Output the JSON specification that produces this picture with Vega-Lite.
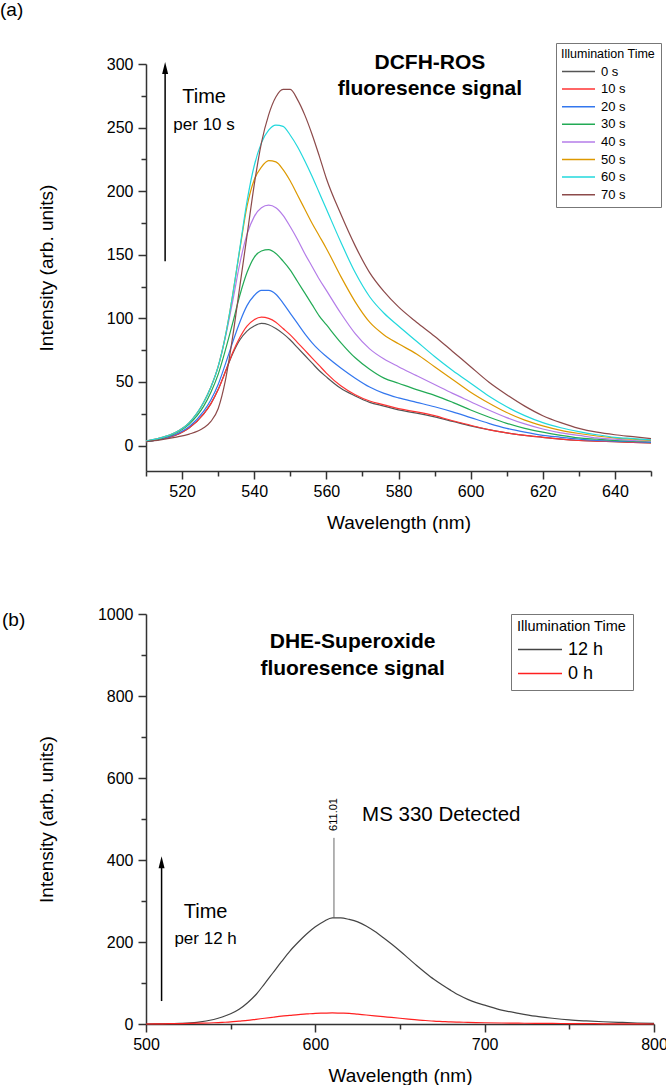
{
  "$schema": "https://vega.github.io/schema/vega-lite/v6.json",
  "padding": {"left": 0, "top": 0, "right": 0, "bottom": 0},
  "background": "white",
  "config": {
    "font": "Liberation Sans",
    "view": {"stroke": null},
    "axis": {"domainColor": "#333333", "domainWidth": 1.5, "tickColor": "#333333", "tickWidth": 1.5, "labelColor": "black", "titleColor": "black", "labelFont": "Liberation Sans", "titleFont": "Liberation Sans", "labelFontSize": 16, "titleFontSize": 19, "titleFontWeight": "normal", "grid": false, "labelOverlap": false, "labelFlush": false, "tickCount": 40},
    "legend": {"titleFont": "Liberation Sans", "labelFont": "Liberation Sans", "titleFontWeight": "normal", "titleColor": "black", "labelColor": "black"},
    "title": {"font": "Liberation Sans", "fontWeight": "normal", "color": "black"}
  },
  "spacing": 74,
  "resolve": {"scale": {"color": "independent"}, "legend": {"color": "independent"}},
  "datasets": {
    "dcfh": [
      {"w":510,"t":"0 s","i":3},{"w":514,"t":"0 s","i":5},{"w":518,"t":"0 s","i":8},{"w":522,"t":"0 s","i":14},{"w":526,"t":"0 s","i":25},{"w":528,"t":"0 s","i":33},{"w":530,"t":"0 s","i":44},{"w":532,"t":"0 s","i":58},{"w":534,"t":"0 s","i":72},{"w":536,"t":"0 s","i":83},{"w":538,"t":"0 s","i":90},{"w":540,"t":"0 s","i":94},{"w":542,"t":"0 s","i":96},{"w":544,"t":"0 s","i":95},{"w":546,"t":"0 s","i":92},{"w":548,"t":"0 s","i":88},{"w":550,"t":"0 s","i":83},{"w":552,"t":"0 s","i":77},{"w":554,"t":"0 s","i":71},{"w":556,"t":"0 s","i":65},{"w":558,"t":"0 s","i":59},{"w":560,"t":"0 s","i":54},{"w":564,"t":"0 s","i":45},{"w":568,"t":"0 s","i":39},{"w":572,"t":"0 s","i":34},{"w":576,"t":"0 s","i":31},{"w":580,"t":"0 s","i":28},{"w":585,"t":"0 s","i":25.5},{"w":590,"t":"0 s","i":22.5},{"w":595,"t":"0 s","i":19},{"w":600,"t":"0 s","i":15.5},{"w":605,"t":"0 s","i":12.5},{"w":610,"t":"0 s","i":10},{"w":615,"t":"0 s","i":8},{"w":620,"t":"0 s","i":6.5},{"w":625,"t":"0 s","i":5},{"w":630,"t":"0 s","i":4},{"w":635,"t":"0 s","i":3.5},{"w":640,"t":"0 s","i":3},{"w":645,"t":"0 s","i":2.5},{"w":650,"t":"0 s","i":2},
      {"w":510,"t":"10 s","i":3},{"w":514,"t":"10 s","i":5},{"w":518,"t":"10 s","i":8},{"w":522,"t":"10 s","i":14},{"w":526,"t":"10 s","i":25},{"w":528,"t":"10 s","i":33},{"w":530,"t":"10 s","i":44},{"w":532,"t":"10 s","i":58},{"w":534,"t":"10 s","i":73},{"w":536,"t":"10 s","i":85},{"w":538,"t":"10 s","i":94},{"w":540,"t":"10 s","i":99},{"w":542,"t":"10 s","i":101},{"w":544,"t":"10 s","i":100},{"w":546,"t":"10 s","i":97},{"w":548,"t":"10 s","i":92},{"w":550,"t":"10 s","i":87},{"w":552,"t":"10 s","i":81},{"w":554,"t":"10 s","i":75},{"w":556,"t":"10 s","i":69},{"w":558,"t":"10 s","i":63},{"w":560,"t":"10 s","i":57},{"w":564,"t":"10 s","i":47},{"w":568,"t":"10 s","i":40},{"w":572,"t":"10 s","i":35},{"w":576,"t":"10 s","i":32},{"w":580,"t":"10 s","i":29},{"w":585,"t":"10 s","i":26.5},{"w":590,"t":"10 s","i":23.5},{"w":595,"t":"10 s","i":19.5},{"w":600,"t":"10 s","i":16},{"w":605,"t":"10 s","i":12.5},{"w":610,"t":"10 s","i":10},{"w":615,"t":"10 s","i":8},{"w":620,"t":"10 s","i":6.5},{"w":625,"t":"10 s","i":5},{"w":630,"t":"10 s","i":4},{"w":635,"t":"10 s","i":3.5},{"w":640,"t":"10 s","i":3},{"w":645,"t":"10 s","i":2.5},{"w":650,"t":"10 s","i":2},
      {"w":510,"t":"20 s","i":3},{"w":514,"t":"20 s","i":5},{"w":518,"t":"20 s","i":8.5},{"w":522,"t":"20 s","i":15},{"w":526,"t":"20 s","i":27},{"w":528,"t":"20 s","i":36},{"w":530,"t":"20 s","i":48},{"w":532,"t":"20 s","i":64},{"w":534,"t":"20 s","i":81},{"w":536,"t":"20 s","i":97},{"w":538,"t":"20 s","i":110},{"w":540,"t":"20 s","i":118},{"w":542,"t":"20 s","i":122},{"w":544,"t":"20 s","i":122},{"w":546,"t":"20 s","i":119},{"w":548,"t":"20 s","i":112},{"w":550,"t":"20 s","i":104},{"w":552,"t":"20 s","i":96},{"w":554,"t":"20 s","i":88},{"w":556,"t":"20 s","i":81},{"w":558,"t":"20 s","i":75},{"w":560,"t":"20 s","i":70},{"w":564,"t":"20 s","i":61},{"w":568,"t":"20 s","i":53},{"w":572,"t":"20 s","i":46},{"w":576,"t":"20 s","i":41},{"w":580,"t":"20 s","i":37.5},{"w":585,"t":"20 s","i":34},{"w":590,"t":"20 s","i":30.5},{"w":595,"t":"20 s","i":26.5},{"w":600,"t":"20 s","i":22},{"w":605,"t":"20 s","i":17.5},{"w":610,"t":"20 s","i":13.5},{"w":615,"t":"20 s","i":10.5},{"w":620,"t":"20 s","i":8},{"w":625,"t":"20 s","i":6.5},{"w":630,"t":"20 s","i":5},{"w":635,"t":"20 s","i":4},{"w":640,"t":"20 s","i":3.5},{"w":645,"t":"20 s","i":3},{"w":650,"t":"20 s","i":2.5},
      {"w":510,"t":"30 s","i":3},{"w":514,"t":"30 s","i":5.5},{"w":518,"t":"30 s","i":9.5},{"w":522,"t":"30 s","i":17},{"w":526,"t":"30 s","i":31},{"w":528,"t":"30 s","i":42},{"w":530,"t":"30 s","i":56},{"w":532,"t":"30 s","i":75},{"w":534,"t":"30 s","i":96},{"w":536,"t":"30 s","i":118},{"w":538,"t":"30 s","i":136},{"w":540,"t":"30 s","i":148},{"w":542,"t":"30 s","i":153},{"w":544,"t":"30 s","i":154},{"w":546,"t":"30 s","i":151},{"w":548,"t":"30 s","i":145},{"w":550,"t":"30 s","i":138},{"w":552,"t":"30 s","i":129},{"w":554,"t":"30 s","i":120},{"w":556,"t":"30 s","i":111},{"w":558,"t":"30 s","i":102},{"w":560,"t":"30 s","i":95},{"w":564,"t":"30 s","i":81},{"w":568,"t":"30 s","i":69},{"w":572,"t":"30 s","i":60},{"w":576,"t":"30 s","i":53},{"w":580,"t":"30 s","i":49},{"w":585,"t":"30 s","i":44},{"w":590,"t":"30 s","i":39.5},{"w":595,"t":"30 s","i":34},{"w":600,"t":"30 s","i":28},{"w":605,"t":"30 s","i":22.5},{"w":610,"t":"30 s","i":17.5},{"w":615,"t":"30 s","i":13.5},{"w":620,"t":"30 s","i":10.5},{"w":625,"t":"30 s","i":8},{"w":630,"t":"30 s","i":6},{"w":635,"t":"30 s","i":5},{"w":640,"t":"30 s","i":4},{"w":645,"t":"30 s","i":3.5},{"w":650,"t":"30 s","i":3},
      {"w":510,"t":"40 s","i":3.5},{"w":514,"t":"40 s","i":6},{"w":518,"t":"40 s","i":10},{"w":522,"t":"40 s","i":18},{"w":526,"t":"40 s","i":34},{"w":528,"t":"40 s","i":46},{"w":530,"t":"40 s","i":62},{"w":532,"t":"40 s","i":85},{"w":534,"t":"40 s","i":113},{"w":536,"t":"40 s","i":143},{"w":538,"t":"40 s","i":166},{"w":540,"t":"40 s","i":180},{"w":542,"t":"40 s","i":187},{"w":544,"t":"40 s","i":189},{"w":546,"t":"40 s","i":187},{"w":548,"t":"40 s","i":181},{"w":550,"t":"40 s","i":172},{"w":552,"t":"40 s","i":162},{"w":554,"t":"40 s","i":151},{"w":556,"t":"40 s","i":141},{"w":558,"t":"40 s","i":131},{"w":560,"t":"40 s","i":122},{"w":564,"t":"40 s","i":104},{"w":568,"t":"40 s","i":88},{"w":572,"t":"40 s","i":76},{"w":576,"t":"40 s","i":68},{"w":580,"t":"40 s","i":62},{"w":585,"t":"40 s","i":55},{"w":590,"t":"40 s","i":48},{"w":595,"t":"40 s","i":41},{"w":600,"t":"40 s","i":34.5},{"w":605,"t":"40 s","i":28},{"w":610,"t":"40 s","i":22},{"w":615,"t":"40 s","i":17},{"w":620,"t":"40 s","i":13},{"w":625,"t":"40 s","i":10},{"w":630,"t":"40 s","i":8},{"w":635,"t":"40 s","i":6},{"w":640,"t":"40 s","i":5},{"w":645,"t":"40 s","i":4},{"w":650,"t":"40 s","i":3.5},
      {"w":510,"t":"50 s","i":3.5},{"w":514,"t":"50 s","i":6},{"w":518,"t":"50 s","i":10},{"w":522,"t":"50 s","i":18},{"w":526,"t":"50 s","i":34},{"w":528,"t":"50 s","i":46},{"w":530,"t":"50 s","i":62},{"w":532,"t":"50 s","i":86},{"w":534,"t":"50 s","i":118},{"w":536,"t":"50 s","i":154},{"w":538,"t":"50 s","i":188},{"w":540,"t":"50 s","i":209},{"w":542,"t":"50 s","i":219},{"w":544,"t":"50 s","i":224},{"w":546,"t":"50 s","i":223},{"w":548,"t":"50 s","i":217},{"w":550,"t":"50 s","i":208},{"w":552,"t":"50 s","i":197},{"w":554,"t":"50 s","i":186},{"w":556,"t":"50 s","i":175},{"w":558,"t":"50 s","i":165},{"w":560,"t":"50 s","i":155},{"w":564,"t":"50 s","i":133},{"w":568,"t":"50 s","i":113},{"w":572,"t":"50 s","i":97},{"w":576,"t":"50 s","i":87},{"w":580,"t":"50 s","i":80},{"w":585,"t":"50 s","i":72},{"w":590,"t":"50 s","i":62},{"w":595,"t":"50 s","i":52},{"w":600,"t":"50 s","i":42},{"w":605,"t":"50 s","i":33.5},{"w":610,"t":"50 s","i":26},{"w":615,"t":"50 s","i":20},{"w":620,"t":"50 s","i":15.5},{"w":625,"t":"50 s","i":12},{"w":630,"t":"50 s","i":9.5},{"w":635,"t":"50 s","i":7.5},{"w":640,"t":"50 s","i":6},{"w":645,"t":"50 s","i":5},{"w":650,"t":"50 s","i":4},
      {"w":510,"t":"60 s","i":3.5},{"w":514,"t":"60 s","i":6},{"w":518,"t":"60 s","i":10},{"w":522,"t":"60 s","i":18},{"w":526,"t":"60 s","i":34},{"w":528,"t":"60 s","i":46},{"w":530,"t":"60 s","i":62},{"w":532,"t":"60 s","i":86},{"w":534,"t":"60 s","i":118},{"w":536,"t":"60 s","i":155},{"w":538,"t":"60 s","i":192},{"w":540,"t":"60 s","i":220},{"w":542,"t":"60 s","i":238},{"w":544,"t":"60 s","i":248},{"w":546,"t":"60 s","i":252},{"w":548,"t":"60 s","i":251},{"w":550,"t":"60 s","i":244},{"w":552,"t":"60 s","i":235},{"w":554,"t":"60 s","i":224},{"w":556,"t":"60 s","i":212},{"w":558,"t":"60 s","i":199},{"w":560,"t":"60 s","i":186},{"w":564,"t":"60 s","i":160},{"w":568,"t":"60 s","i":136},{"w":572,"t":"60 s","i":117},{"w":576,"t":"60 s","i":104},{"w":580,"t":"60 s","i":94},{"w":585,"t":"60 s","i":82},{"w":590,"t":"60 s","i":70},{"w":595,"t":"60 s","i":59},{"w":600,"t":"60 s","i":49},{"w":605,"t":"60 s","i":39},{"w":610,"t":"60 s","i":30.5},{"w":615,"t":"60 s","i":23.5},{"w":620,"t":"60 s","i":18},{"w":625,"t":"60 s","i":14},{"w":630,"t":"60 s","i":11},{"w":635,"t":"60 s","i":8.5},{"w":640,"t":"60 s","i":6.5},{"w":645,"t":"60 s","i":5.5},{"w":650,"t":"60 s","i":4.5},
      {"w":510,"t":"70 s","i":3},{"w":514,"t":"70 s","i":4.5},{"w":518,"t":"70 s","i":6.5},{"w":522,"t":"70 s","i":9},{"w":526,"t":"70 s","i":14},{"w":528,"t":"70 s","i":19},{"w":530,"t":"70 s","i":29},{"w":532,"t":"70 s","i":51},{"w":534,"t":"70 s","i":85},{"w":536,"t":"70 s","i":125},{"w":538,"t":"70 s","i":165},{"w":540,"t":"70 s","i":205},{"w":542,"t":"70 s","i":238},{"w":544,"t":"70 s","i":260},{"w":546,"t":"70 s","i":274},{"w":548,"t":"70 s","i":280},{"w":550,"t":"70 s","i":280},{"w":552,"t":"70 s","i":272},{"w":554,"t":"70 s","i":260},{"w":556,"t":"70 s","i":245},{"w":558,"t":"70 s","i":228},{"w":560,"t":"70 s","i":210},{"w":564,"t":"70 s","i":182},{"w":568,"t":"70 s","i":157},{"w":572,"t":"70 s","i":136},{"w":576,"t":"70 s","i":121},{"w":580,"t":"70 s","i":109},{"w":585,"t":"70 s","i":97},{"w":590,"t":"70 s","i":86},{"w":595,"t":"70 s","i":74},{"w":600,"t":"70 s","i":62},{"w":605,"t":"70 s","i":50},{"w":610,"t":"70 s","i":40},{"w":615,"t":"70 s","i":31},{"w":620,"t":"70 s","i":23.5},{"w":625,"t":"70 s","i":18},{"w":630,"t":"70 s","i":13.5},{"w":635,"t":"70 s","i":10.5},{"w":640,"t":"70 s","i":8.5},{"w":645,"t":"70 s","i":7},{"w":650,"t":"70 s","i":5.5}
    ],
    "dhe": [
      {"w":500,"t":"12 h","i":0},{"w":510,"t":"12 h","i":0.5},{"w":520,"t":"12 h","i":1.5},{"w":530,"t":"12 h","i":4},{"w":540,"t":"12 h","i":11},{"w":545,"t":"12 h","i":17},{"w":550,"t":"12 h","i":25},{"w":555,"t":"12 h","i":36},{"w":560,"t":"12 h","i":52},{"w":565,"t":"12 h","i":72},{"w":570,"t":"12 h","i":98},{"w":575,"t":"12 h","i":125},{"w":580,"t":"12 h","i":152},{"w":585,"t":"12 h","i":178},{"w":590,"t":"12 h","i":200},{"w":595,"t":"12 h","i":220},{"w":600,"t":"12 h","i":237},{"w":605,"t":"12 h","i":250},{"w":610,"t":"12 h","i":259},{"w":615,"t":"12 h","i":259},{"w":620,"t":"12 h","i":255},{"w":625,"t":"12 h","i":249},{"w":630,"t":"12 h","i":239},{"w":635,"t":"12 h","i":226},{"w":640,"t":"12 h","i":211},{"w":645,"t":"12 h","i":195},{"w":650,"t":"12 h","i":178},{"w":655,"t":"12 h","i":160},{"w":660,"t":"12 h","i":142},{"w":665,"t":"12 h","i":125},{"w":670,"t":"12 h","i":109},{"w":675,"t":"12 h","i":95},{"w":680,"t":"12 h","i":82},{"w":685,"t":"12 h","i":70},{"w":690,"t":"12 h","i":60},{"w":695,"t":"12 h","i":52},{"w":700,"t":"12 h","i":46},{"w":710,"t":"12 h","i":34},{"w":720,"t":"12 h","i":26},{"w":730,"t":"12 h","i":19},{"w":740,"t":"12 h","i":14},{"w":750,"t":"12 h","i":10},{"w":760,"t":"12 h","i":7.5},{"w":770,"t":"12 h","i":5.5},{"w":780,"t":"12 h","i":4},{"w":790,"t":"12 h","i":2.5},{"w":800,"t":"12 h","i":1.5},
      {"w":500,"t":"0 h","i":0},{"w":510,"t":"0 h","i":0.5},{"w":520,"t":"0 h","i":1},{"w":530,"t":"0 h","i":2},{"w":540,"t":"0 h","i":3},{"w":545,"t":"0 h","i":4},{"w":550,"t":"0 h","i":5},{"w":555,"t":"0 h","i":7},{"w":560,"t":"0 h","i":9},{"w":565,"t":"0 h","i":11.5},{"w":570,"t":"0 h","i":14},{"w":575,"t":"0 h","i":16.5},{"w":580,"t":"0 h","i":19},{"w":585,"t":"0 h","i":21},{"w":590,"t":"0 h","i":23},{"w":595,"t":"0 h","i":24.5},{"w":600,"t":"0 h","i":26},{"w":605,"t":"0 h","i":26.5},{"w":610,"t":"0 h","i":27},{"w":615,"t":"0 h","i":26.5},{"w":620,"t":"0 h","i":26},{"w":625,"t":"0 h","i":24},{"w":630,"t":"0 h","i":22},{"w":635,"t":"0 h","i":20},{"w":640,"t":"0 h","i":18},{"w":645,"t":"0 h","i":16},{"w":650,"t":"0 h","i":14},{"w":655,"t":"0 h","i":12},{"w":660,"t":"0 h","i":10},{"w":665,"t":"0 h","i":8.5},{"w":670,"t":"0 h","i":7},{"w":675,"t":"0 h","i":6},{"w":680,"t":"0 h","i":5},{"w":685,"t":"0 h","i":4.5},{"w":690,"t":"0 h","i":4},{"w":695,"t":"0 h","i":3.5},{"w":700,"t":"0 h","i":3},{"w":710,"t":"0 h","i":2.5},{"w":720,"t":"0 h","i":2},{"w":730,"t":"0 h","i":1.5},{"w":740,"t":"0 h","i":1.5},{"w":750,"t":"0 h","i":1},{"w":760,"t":"0 h","i":1},{"w":770,"t":"0 h","i":0.5},{"w":780,"t":"0 h","i":0.5},{"w":790,"t":"0 h","i":0.5},{"w":800,"t":"0 h","i":0}
    ]
  },
  "vconcat": [
    {
      "width": 505,
      "height": 407,
      "title": {"text": "(a)", "anchor": "start", "frame": "group", "fontSize": 19, "dx": -146, "offset": 23},
      "layer": [
        {
          "data": {"name": "dcfh"},
          "mark": {"type": "line", "strokeWidth": 1.2, "interpolate": "monotone"},
          "encoding": {
            "x": {"field": "w", "type": "quantitative", "scale": {"domain": [510, 650], "nice": false, "zero": false},
              "axis": {"values": [510,520,530,540,550,560,570,580,590,600,610,620,630,640,650], "tickCount": 40, "tickSize": {"condition": {"test": "datum.value % 20 === 0", "value": 8}, "value": 5}, "labelExpr": "datum.value % 20 === 0 ? datum.label : ''", "labelPadding": 4, "title": "Wavelength (nm)", "titlePadding": 14}},
            "y": {"field": "i", "type": "quantitative", "scale": {"domain": [-20, 300], "nice": false, "zero": false},
              "axis": {"values": [0,25,50,75,100,125,150,175,200,225,250,275,300], "tickCount": 40, "tickSize": {"condition": {"test": "datum.value % 50 === 0", "value": 8}, "value": 5}, "labelExpr": "datum.value % 50 === 0 ? datum.label : ''", "labelPadding": 5, "title": "Intensity (arb. units)", "titlePadding": 40, "minExtent": 50, "maxExtent": 50}},
            "color": {"field": "t", "type": "nominal",
              "scale": {"domain": ["0 s","10 s","20 s","30 s","40 s","50 s","60 s","70 s"], "range": ["#555555","#ff3333","#3377ee","#22aa55","#b47ce8","#dd9900","#22d8dd","#8c4a4a"]},
              "legend": {"orient": "none", "legendX": 410, "legendY": -21, "title": "Illumination Time", "titleFontSize": 12.5, "titlePadding": 4, "labelFontSize": 13, "symbolType": "stroke", "symbolSize": 1089, "symbolStrokeWidth": 1.5, "clipHeight": 14, "rowPadding": 3.6, "labelOffset": 5, "strokeColor": "#777777", "fillColor": "white", "padding": 5}}
          }
        },
        {
          "data": {"values": [{}]},
          "mark": {"type": "rule", "color": "black", "strokeWidth": 1.5},
          "encoding": {"x": {"datum": 515.3}, "y": {"datum": 145}, "y2": {"datum": 297}}
        },
        {
          "data": {"values": [{}]},
          "mark": {"type": "point", "shape": "M0,-1L0.5,1L-0.5,1Z", "filled": true, "color": "black", "opacity": 1, "size": 144},
          "encoding": {"x": {"datum": 515.3}, "y": {"datum": 296.9}}
        },
        {
          "data": {"values": [{}]},
          "mark": {"type": "text", "text": "Time", "fontSize": 20, "align": "center", "baseline": "middle", "color": "black"},
          "encoding": {"x": {"datum": 526.1}, "y": {"datum": 274}}
        },
        {
          "data": {"values": [{}]},
          "mark": {"type": "text", "text": "per 10 s", "fontSize": 17, "align": "center", "baseline": "middle", "color": "black"},
          "encoding": {"x": {"datum": 526.1}, "y": {"datum": 252}}
        },
        {
          "data": {"values": [{}]},
          "mark": {"type": "text", "text": "DCFH-ROS", "fontSize": 21, "fontWeight": "bold", "align": "center", "baseline": "middle", "color": "black"},
          "encoding": {"x": {"datum": 588.7}, "y": {"datum": 301}}
        },
        {
          "data": {"values": [{}]},
          "mark": {"type": "text", "text": "fluoresence signal", "fontSize": 21, "fontWeight": "bold", "align": "center", "baseline": "middle", "color": "black"},
          "encoding": {"x": {"datum": 588.7}, "y": {"datum": 280}}
        }
      ]
    },
    {
      "width": 508,
      "height": 410,
      "title": {"text": "(b)", "anchor": "start", "frame": "group", "fontSize": 19, "dx": -144, "offset": -24},
      "layer": [
        {
          "data": {"name": "dhe"},
          "mark": {"type": "line", "strokeWidth": 1.2, "interpolate": "monotone"},
          "encoding": {
            "x": {"field": "w", "type": "quantitative", "scale": {"domain": [500, 800], "nice": false, "zero": false},
              "axis": {"values": [500,550,600,650,700,750,800], "tickCount": 40, "format": "d", "tickSize": {"condition": {"test": "datum.value % 100 === 0", "value": 8}, "value": 5}, "labelExpr": "datum.value % 100 === 0 ? datum.label : ''", "labelPadding": 4, "title": "Wavelength (nm)", "titlePadding": 14}},
            "y": {"field": "i", "type": "quantitative", "scale": {"domain": [0, 1000], "nice": false, "zero": false},
              "axis": {"values": [0,100,200,300,400,500,600,700,800,900,1000], "tickCount": 40, "format": "d", "tickSize": {"condition": {"test": "datum.value % 200 === 0", "value": 8}, "value": 5}, "labelExpr": "datum.value % 200 === 0 ? datum.label : ''", "labelPadding": 5, "title": "Intensity (arb. units)", "titlePadding": 40, "minExtent": 50, "maxExtent": 50}},
            "color": {"field": "t", "type": "nominal",
              "scale": {"domain": ["12 h","0 h"], "range": ["#444444","#ff2020"]},
              "legend": {"orient": "none", "legendX": 365, "legendY": 0, "title": "Illumination Time", "titleFontSize": 14.5, "titlePadding": 5, "labelFontSize": 18, "symbolType": "stroke", "symbolSize": 1936, "symbolStrokeWidth": 1.5, "clipHeight": 20, "rowPadding": 4, "labelOffset": 5, "strokeColor": "#777777", "fillColor": "white", "padding": 6}}
          }
        },
        {
          "data": {"values": [{}]},
          "mark": {"type": "rule", "color": "#444444", "strokeWidth": 0.8},
          "encoding": {"x": {"datum": 611}, "y": {"datum": 260}, "y2": {"datum": 454}}
        },
        {
          "data": {"values": [{}]},
          "mark": {"type": "text", "text": "611.01", "fontSize": 11, "angle": 270, "align": "center", "baseline": "middle", "color": "black"},
          "encoding": {"x": {"datum": 611.3}, "y": {"datum": 511}}
        },
        {
          "data": {"values": [{}]},
          "mark": {"type": "text", "text": "MS 330 Detected", "fontSize": 20.5, "align": "left", "baseline": "middle", "color": "black"},
          "encoding": {"x": {"datum": 627.6}, "y": {"datum": 509}}
        },
        {
          "data": {"values": [{}]},
          "mark": {"type": "rule", "color": "black", "strokeWidth": 1.5},
          "encoding": {"x": {"datum": 509.2}, "y": {"datum": 56}, "y2": {"datum": 395}}
        },
        {
          "data": {"values": [{}]},
          "mark": {"type": "point", "shape": "M0,-1L0.5,1L-0.5,1Z", "filled": true, "color": "black", "opacity": 1, "size": 144},
          "encoding": {"x": {"datum": 509.2}, "y": {"datum": 394.4}}
        },
        {
          "data": {"values": [{}]},
          "mark": {"type": "text", "text": "Time", "fontSize": 20, "align": "center", "baseline": "middle", "color": "black"},
          "encoding": {"x": {"datum": 535.2}, "y": {"datum": 274}}
        },
        {
          "data": {"values": [{}]},
          "mark": {"type": "text", "text": "per 12 h", "fontSize": 17, "align": "center", "baseline": "middle", "color": "black"},
          "encoding": {"x": {"datum": 535.2}, "y": {"datum": 208}}
        },
        {
          "data": {"values": [{}]},
          "mark": {"type": "text", "text": "DHE-Superoxide", "fontSize": 21, "fontWeight": "bold", "align": "center", "baseline": "middle", "color": "black"},
          "encoding": {"x": {"datum": 622}, "y": {"datum": 932}}
        },
        {
          "data": {"values": [{}]},
          "mark": {"type": "text", "text": "fluoresence signal", "fontSize": 21, "fontWeight": "bold", "align": "center", "baseline": "middle", "color": "black"},
          "encoding": {"x": {"datum": 622}, "y": {"datum": 867}}
        }
      ]
    }
  ]
}
